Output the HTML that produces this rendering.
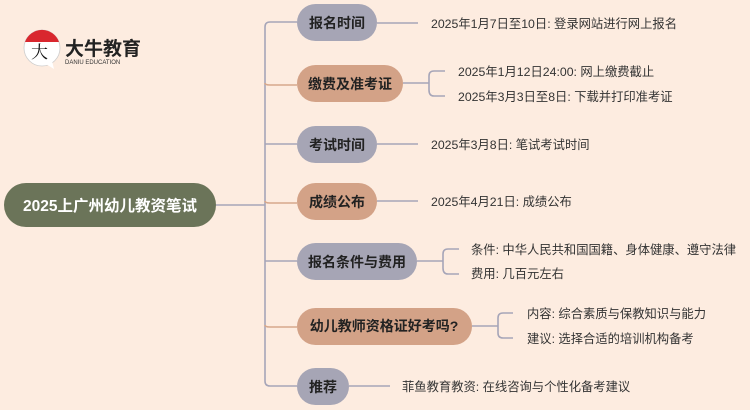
<!DOCTYPE html>
<html><head><meta charset="utf-8"><style>
body{margin:0;width:750px;height:410px;background:#fdece0;overflow:hidden;font-family:"Liberation Sans","Noto Sans CJK SC",sans-serif;}
</style></head><body>
<svg width="750" height="410" xmlns="http://www.w3.org/2000/svg" style="position:absolute;left:0;top:0">
<g fill="none" stroke-width="1.6">
<path d="M216 205 H265" stroke="#a6a5b8"/>
<path d="M297 22 H270 Q265 22 265 27 V381 Q265 386 270 386 H297" stroke="#a6a5b8"/>
<path d="M265 83 Q265 85 270 85 H297 M265 201 Q265 203 270 203 H297 M265 325 Q265 327 270 327 H297" stroke="#d7a88c"/>
<path d="M265 144 H297 M265 261 H297" stroke="#a6a5b8"/>
<path d="M377 23 H418 M403 83 H429 M429 76 Q429 71 434 71 H445 M429 90 Q429 96 434 96 H445 M429 76 V90 M377 144 H418 M377 201 H418 M417 261 H443 M443 254 Q443 249 448 249 H459 M443 268 Q443 274 448 274 H459 M443 254 V268 M472 326 H498 M498 318 Q498 313 503 313 H513 M498 333 Q498 338 503 338 H513 M498 318 V333 M349 386 H390" stroke="#a6a5b8"/>
</g>
<rect x="4" y="183" width="212" height="44" rx="22" fill="#6b7459"/>
<text x="110" y="211" text-anchor="middle" font-size="15.5" font-weight="bold" fill="#fff">2025上广州幼儿教资笔试</text>
<g font-size="14" font-weight="bold" fill="#222" text-anchor="middle">
<rect x="297" y="4" width="80" height="37" rx="18.5" fill="#a6a5b5"/><text x="337" y="28">报名时间</text>
<rect x="297" y="65" width="106" height="37" rx="18.5" fill="#d3a287"/><text x="350" y="89">缴费及准考证</text>
<rect x="297" y="126" width="80" height="37" rx="18.5" fill="#a6a5b5"/><text x="337" y="150">考试时间</text>
<rect x="297" y="183" width="80" height="37" rx="18.5" fill="#d3a287"/><text x="337" y="207">成绩公布</text>
<rect x="297" y="243" width="120" height="37" rx="18.5" fill="#a6a5b5"/><text x="357" y="267">报名条件与费用</text>
<rect x="297" y="308" width="175" height="37" rx="18.5" fill="#d3a287"/><text x="384" y="331">幼儿教师资格证好考吗?</text>
<rect x="297" y="368" width="52" height="37" rx="18.5" fill="#a6a5b5"/><text x="323" y="392">推荐</text>
</g>
<g font-size="12.3" fill="#333">
<text x="431" y="28">2025年1月7日至10日: 登录网站进行网上报名</text>
<text x="458" y="76">2025年1月12日24:00: 网上缴费截止</text>
<text x="458" y="101">2025年3月3日至8日: 下载并打印准考证</text>
<text x="431" y="149">2025年3月8日: 笔试考试时间</text>
<text x="431" y="206">2025年4月21日: 成绩公布</text>
<text x="471" y="254">条件: 中华人民共和国国籍、身体健康、遵守法律</text>
<text x="471" y="278">费用: 几百元左右</text>
<text x="527" y="318">内容: 综合素质与保教知识与能力</text>
<text x="527" y="343">建议: 选择合适的培训机构备考</text>
<text x="402" y="391">菲鱼教育教资: 在线咨询与个性化备考建议</text>
</g>
<circle cx="42" cy="48" r="18" fill="#fff" stroke="#ccc" stroke-width="0.8"/>
<path d="M25 42 A18 18 0 0 1 59 42 Z" fill="#d9272e"/>
<path d="M46 64 L54 69 L52 61 Z" fill="#fff"/>
<text x="31" y="58" font-size="17" font-family="Liberation Serif,Noto Serif CJK SC,serif" fill="#111">大</text>
<text x="65" y="55" font-size="19" font-weight="bold" fill="#222">大牛教育</text>
<text x="65" y="64" font-size="6" fill="#333">DANIU EDUCATION</text>
</svg>
</body></html>
